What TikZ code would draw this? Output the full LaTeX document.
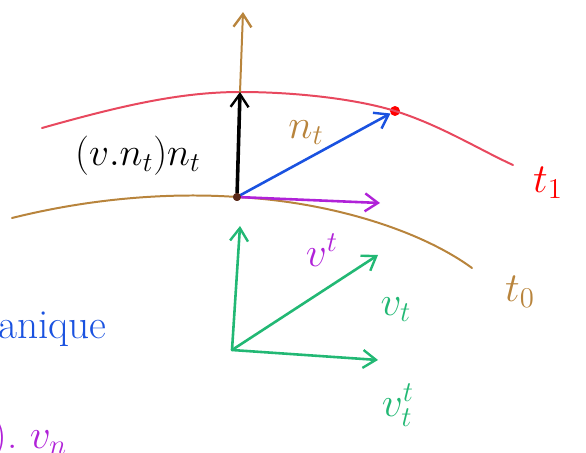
\documentclass[tikz,border=0pt]{standalone}
\usepackage{fix-cm}
\usetikzlibrary{arrows.meta}
\definecolor{cred}{HTML}{E8485E}
\definecolor{cbrown}{HTML}{B8843C}
\definecolor{cblue}{HTML}{1A52E0}
\definecolor{cpurple}{HTML}{B022D8}
\definecolor{cgreen}{HTML}{22B874}
\definecolor{cdark}{HTML}{5A2A1A}
\begin{document}
\begin{tikzpicture}[x=1bp,y=-1bp,
  vec/.style={-{Straight Barb[length=13pt,width=18pt,line width=2.4pt]},line width=2.6pt,line cap=round},
  curve/.style={line width=2pt,line cap=round},
  lab/.style={font=\huge,scale=2,inner sep=0pt},
  pt/.style={circle,inner sep=0pt,minimum size=8pt}]
\useasboundingbox (0,0) rectangle (586,453);
% points
\node[pt,fill=cdark] (O) at (237,197) {};
\coordinate (A) at (240,92);
\coordinate (Top) at (243,12);
\node[pt,fill=red,minimum size=10pt] (R) at (395,111) {};
\coordinate (P) at (380,203);
\coordinate (G) at (232,350);
\coordinate (Gu) at (240,226);
\coordinate (Gd) at (378,255);
\coordinate (Gr) at (378,360);
% curves
\draw[curve,cbrown] (12,218) .. controls (100,196) and (180,193) .. (O.center)
   .. controls (330,202) and (420,230) .. (472,268);
\draw[curve,cred] (42,128) .. controls (120,106) and (180,92) .. (A)
   .. controls (300,92) and (360,100) .. (R.center)
   .. controls (440,125) and (480,150) .. (513,165);
% vectors
\draw[vec,cbrown,line width=2pt] (A) -- (Top);
\draw[vec,black,line width=3.6pt] (O) -- (A);
\draw[vec,cblue] (O) -- (R);
\draw[vec,cpurple] (O) -- (P);
\draw[vec,cgreen] (G) -- (Gu);
\draw[vec,cgreen] (G) -- (Gd);
\draw[vec,cgreen] (G) -- (Gr);
\node[pt,fill=cdark] at (O) {};
% labels
\node[lab,black,scale=0.95] (l1) at (138,156) {$(v.n_t)n_t$};
\node[lab,cbrown] (l2) at (306,133) {$n_t$};
\node[lab,red] (l3) at (548,183) {$t_1$};
\node[lab,cbrown] (l4) at (520,292) {$t_0$};
\node[lab,cpurple] (l5) at (322,250) {$v^{t}$};
\node[lab,cgreen] (l6) at (396,310) {$v_t$};
\node[lab,cgreen] (l7) at (398,405) {$v_t^{t}$};
\node[lab,cblue,anchor=base west] (l8) at (-2,338) {anique};
\node[lab,cpurple,anchor=base west] (l9) at (-8,448) {).\ $v_n$};
\end{tikzpicture}
\end{document}
